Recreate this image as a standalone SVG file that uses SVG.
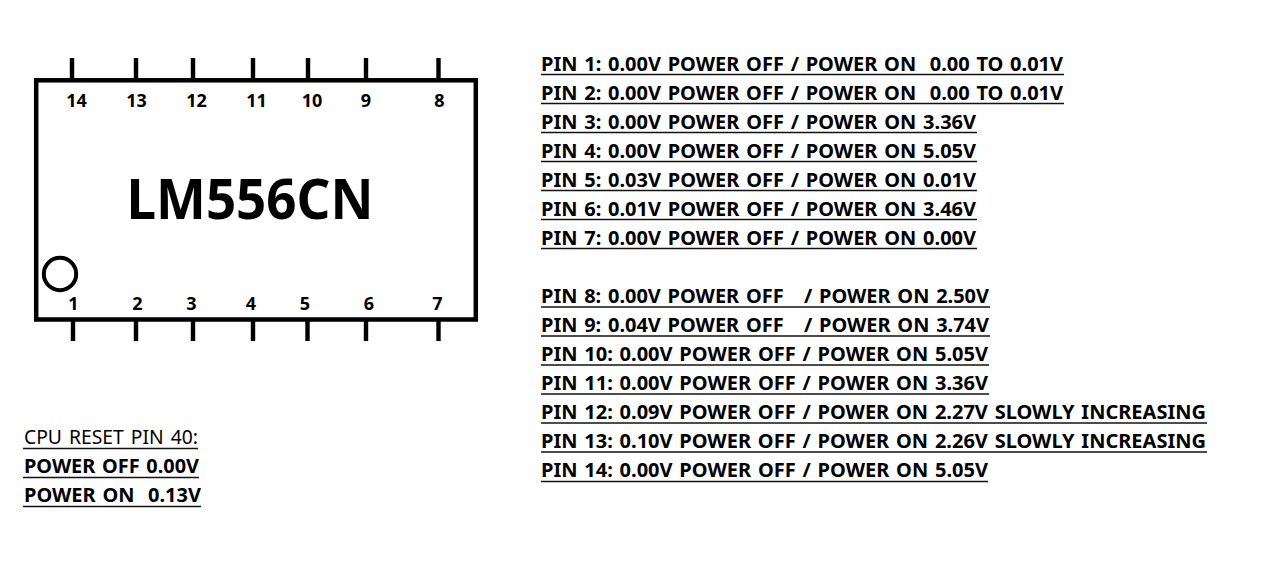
<svg xmlns="http://www.w3.org/2000/svg" width="1280" height="572" viewBox="0 0 1280 572">
<style>
text{font-family:"Noto Sans","Open Sans","Liberation Sans",sans-serif;fill:#000;white-space:pre}
.r{font-size:19px;font-weight:700;word-spacing:1.500px}
.n{font-size:18px;font-weight:700;text-anchor:middle}
.t{font-size:55px;font-weight:700}
.c{font-size:19px;font-weight:400;word-spacing:2px}
.u{stroke:#111;stroke-width:1.6;fill:none}
.p{stroke:#000;stroke-width:4.4;fill:none}
</style>
<rect width="1280" height="572" fill="#fff"/>
<g id="connectors">
<path class="p" d="M72 58V80M136 58V80M193 58V80M253 58V80M308 58V80M366 58V80M438.500 58V80"/>
<path class="p" d="M73 320V341M136 320V341M193 320V341M253 320V341M307.500 320V341M366 320V341M438.500 320V341"/>
</g>
<g id="chip">
<rect x="36.200" y="80.300" width="439.600" height="239.200" fill="#fff" stroke="#000" stroke-width="4.500"/>
<circle cx="60" cy="274" r="16.200" fill="none" stroke="#000" stroke-width="4"/>
<text class="t" x="126.500" y="218.500" textLength="247" lengthAdjust="spacingAndGlyphs">LM556CN</text>
</g>
<g id="pin-numbers">
<text class="n" x="76.500" y="106.700">14</text><text class="n" x="136.500" y="106.700">13</text><text class="n" x="196.500" y="106.700">12</text><text class="n" x="256.500" y="106.700">11</text><text class="n" x="312" y="106.700">10</text><text class="n" x="366" y="106.700">9</text><text class="n" x="439.500" y="106.700">8</text>
<text class="n" x="73.500" y="309.700">1</text><text class="n" x="137.500" y="309.700">2</text><text class="n" x="191.500" y="309.700">3</text><text class="n" x="251" y="309.700">4</text><text class="n" x="305" y="309.700">5</text><text class="n" x="369" y="309.700">6</text><text class="n" x="437.500" y="309.700">7</text>
</g>
<g id="pin-readings">
<text class="r" x="541" y="71" textLength="522" lengthAdjust="spacingAndGlyphs">PIN 1: 0.00V POWER OFF / POWER ON  0.00 TO 0.01V</text><path class="u" d="M541 74.500H1064"/>
<text class="r" x="541" y="100" textLength="522" lengthAdjust="spacingAndGlyphs">PIN 2: 0.00V POWER OFF / POWER ON  0.00 TO 0.01V</text><path class="u" d="M541 103.500H1064"/>
<text class="r" x="541" y="129" textLength="435" lengthAdjust="spacingAndGlyphs">PIN 3: 0.00V POWER OFF / POWER ON 3.36V</text><path class="u" d="M541 132.500H977"/>
<text class="r" x="541" y="158" textLength="435" lengthAdjust="spacingAndGlyphs">PIN 4: 0.00V POWER OFF / POWER ON 5.05V</text><path class="u" d="M541 161.500H977"/>
<text class="r" x="541" y="187" textLength="435" lengthAdjust="spacingAndGlyphs">PIN 5: 0.03V POWER OFF / POWER ON 0.01V</text><path class="u" d="M541 190.500H977"/>
<text class="r" x="541" y="216" textLength="435" lengthAdjust="spacingAndGlyphs">PIN 6: 0.01V POWER OFF / POWER ON 3.46V</text><path class="u" d="M541 219.500H977"/>
<text class="r" x="541" y="245" textLength="435" lengthAdjust="spacingAndGlyphs">PIN 7: 0.00V POWER OFF / POWER ON 0.00V</text><path class="u" d="M541 248.500H977"/>
<text class="r" x="541" y="302.900" textLength="448" lengthAdjust="spacingAndGlyphs">PIN 8: 0.00V POWER OFF   / POWER ON 2.50V</text><path class="u" d="M541 307H990"/>
<text class="r" x="541" y="331.900" textLength="448" lengthAdjust="spacingAndGlyphs">PIN 9: 0.04V POWER OFF   / POWER ON 3.74V</text><path class="u" d="M541 336H990"/>
<text class="r" x="541" y="360.900" textLength="447" lengthAdjust="spacingAndGlyphs">PIN 10: 0.00V POWER OFF / POWER ON 5.05V</text><path class="u" d="M541 365H989"/>
<text class="r" x="541" y="389.900" textLength="447" lengthAdjust="spacingAndGlyphs">PIN 11: 0.00V POWER OFF / POWER ON 3.36V</text><path class="u" d="M541 394H989"/>
<text class="r" x="541" y="418.900" textLength="665" lengthAdjust="spacingAndGlyphs">PIN 12: 0.09V POWER OFF / POWER ON 2.27V SLOWLY INCREASING</text><path class="u" d="M541 423H1207"/>
<text class="r" x="541" y="447.900" textLength="665" lengthAdjust="spacingAndGlyphs">PIN 13: 0.10V POWER OFF / POWER ON 2.26V SLOWLY INCREASING</text><path class="u" d="M541 452H1207"/>
<text class="r" x="541" y="476.900" textLength="447" lengthAdjust="spacingAndGlyphs">PIN 14: 0.00V POWER OFF / POWER ON 5.05V</text><path class="u" d="M541 481.500H988"/>
</g>
<g id="cpu-reset">
<text class="c" x="24" y="443.500" textLength="174" lengthAdjust="spacingAndGlyphs">CPU RESET PIN 40:</text><path class="u" d="M23 448.500H198"/>
<text class="r" x="24" y="472.500" textLength="175" lengthAdjust="spacingAndGlyphs">POWER OFF 0.00V</text><path class="u" d="M23 477.500H199"/>
<text class="r" x="24" y="501.500" textLength="177" lengthAdjust="spacingAndGlyphs">POWER ON  0.13V</text><path class="u" d="M23 506.500H201"/>
</g>
</svg>
